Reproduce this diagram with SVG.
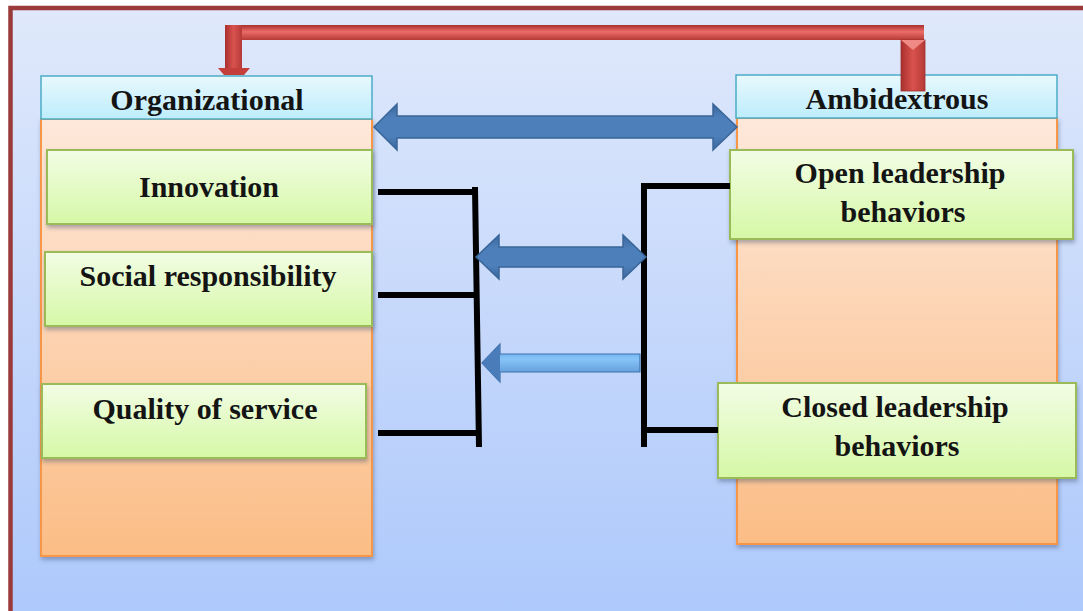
<svg xmlns="http://www.w3.org/2000/svg" width="1083" height="611" viewBox="0 0 1083 611">
  <defs>
    <linearGradient id="bg" x1="0" y1="0" x2="0" y2="1">
      <stop offset="0" stop-color="#e0e9fb"/>
      <stop offset="1" stop-color="#a5c3fb"/>
    </linearGradient>
    <linearGradient id="hdr" x1="0" y1="0" x2="0" y2="1">
      <stop offset="0" stop-color="#e8f8fd"/>
      <stop offset="1" stop-color="#bdedfc"/>
    </linearGradient>
    <linearGradient id="body" x1="0" y1="0" x2="0" y2="1">
      <stop offset="0" stop-color="#fee8da"/>
      <stop offset="1" stop-color="#fbbd86"/>
    </linearGradient>
    <linearGradient id="leaf" x1="0" y1="0" x2="0" y2="1">
      <stop offset="0" stop-color="#f2fde5"/>
      <stop offset="1" stop-color="#d6f8a6"/>
    </linearGradient>
    <linearGradient id="redH" x1="0" y1="0" x2="0" y2="1">
      <stop offset="0" stop-color="#a8302e"/>
      <stop offset="0.45" stop-color="#ec6d69"/>
      <stop offset="1" stop-color="#b53a37"/>
    </linearGradient>
    <linearGradient id="redV" x1="0" y1="0" x2="1" y2="0">
      <stop offset="0" stop-color="#a8302e"/>
      <stop offset="0.5" stop-color="#d9524e"/>
      <stop offset="1" stop-color="#b53a37"/>
    </linearGradient>
    <linearGradient id="blueA" x1="0" y1="0" x2="0" y2="1">
      <stop offset="0" stop-color="#3b679c"/>
      <stop offset="0.3" stop-color="#4d7fba"/>
      <stop offset="0.7" stop-color="#4d7fba"/>
      <stop offset="1" stop-color="#3b679c"/>
    </linearGradient>
    <linearGradient id="blueL" x1="0" y1="0" x2="0" y2="1">
      <stop offset="0" stop-color="#5a9be0"/>
      <stop offset="0.4" stop-color="#86c4f8"/>
      <stop offset="1" stop-color="#4f86c8"/>
    </linearGradient>
    <filter id="shadow" x="-5%" y="-5%" width="115%" height="120%">
      <feDropShadow dx="1" dy="3" stdDeviation="2" flood-color="#3a4a6a" flood-opacity="0.4"/>
    </filter>
  </defs>
  <style>
    .hdr { fill: url(#hdr); stroke: #4bacc6; stroke-width: 1.5; }
    .body { fill: url(#body); stroke: #f79646; stroke-width: 2; filter: url(#shadow); }
    .leaf { fill: url(#leaf); stroke: #9bbb59; stroke-width: 2; filter: url(#shadow); }
    .lbl { font-family: "Liberation Serif", "Times New Roman", serif; font-weight: bold; font-size: 30px; fill: #141414; text-anchor: middle; }
    .bar { stroke: #000; stroke-width: 6; fill: none; stroke-linecap: butt; }
    .arr { fill: url(#blueA); stroke: #3a6598; stroke-width: 1.5; stroke-linejoin: miter; }
  </style>

  <!-- page and frame -->
  <rect x="0" y="0" width="1083" height="611" fill="#ffffff"/>
  <rect x="10.5" y="8" width="1100" height="700" fill="url(#bg)" stroke="#9a3a3a" stroke-width="4.5"/>

  <!-- left column -->
  <g id="organizational">
    <rect class="body" x="41" y="119" width="331" height="437"/>
    <rect class="hdr" x="41" y="76" width="331" height="43"/>
    <text class="lbl" x="207" y="110">Organizational</text>
  </g>
  <g id="innovation">
    <rect class="leaf" x="47" y="150" width="325" height="74"/>
    <text class="lbl" x="209" y="197">Innovation</text>
  </g>
  <g id="social-responsibility">
    <rect class="leaf" x="45" y="252" width="327" height="74"/>
    <text class="lbl" x="208" y="286">Social responsibility</text>
  </g>
  <g id="quality-of-service">
    <rect class="leaf" x="42" y="384" width="324" height="74"/>
    <text class="lbl" x="205" y="419">Quality of service</text>
  </g>

  <!-- right column -->
  <g id="ambidextrous">
    <rect class="body" x="737" y="118" width="320" height="426"/>
    <rect class="hdr" x="736" y="75" width="321" height="43"/>
    <text class="lbl" x="897" y="109">Ambidextrous</text>
  </g>
  <g id="open-leadership">
    <rect class="leaf" x="730" y="150" width="343" height="89"/>
    <text class="lbl" x="900" y="183">Open leadership</text>
    <text class="lbl" x="903" y="222">behaviors</text>
  </g>
  <g id="closed-leadership">
    <rect class="leaf" x="718" y="383" width="358" height="95"/>
    <text class="lbl" x="895" y="417">Closed leadership</text>
    <text class="lbl" x="897" y="456">behaviors</text>
  </g>

  <!-- connectors -->
  <g id="connectors">
    <!-- red bent arrow from Ambidextrous back to Organizational -->
    <g id="feedback-arrow">
      <rect x="225" y="25" width="699" height="15" fill="url(#redH)"/>
      <rect x="225" y="25" width="17" height="44" fill="url(#redV)"/>
      <polygon points="218,68 250,68 244,75 224,75" fill="#c43f3b"/>
      <rect x="901" y="40" width="24" height="51" fill="url(#redV)" stroke="#9c2e2c" stroke-width="0.8"/>
      <polygon points="901,40 925,40 913,50" fill="#f08a86"/>
    </g>

    <!-- top double arrow between the two headers -->
    <polygon class="arr" points="374,127 397,104 397,116 713,116 713,104 737,127 713,150 713,138 397,138 397,150"/>

    <!-- left bracket -->
    <path class="bar" d="M378,192 H477 M378,295 H478 M378,433 H480 M475,187 L479,447"/>
    <!-- right bracket -->
    <path class="bar" d="M644,183 V447 M641,186 H730 M644,430 H718"/>

    <!-- middle double arrow -->
    <polygon class="arr" points="476,257 499,235 499,247 623,247 623,235 646,257 623,279 623,267 499,267 499,279"/>

    <!-- lower single arrow pointing left -->
    <polygon points="482,363 500,344 500,354 640,354 640,372 500,372 500,382" fill="url(#blueL)" stroke="#3f70ab" stroke-width="1.2"/>
    <polygon points="482,363 500,344 500,382" fill="#4a7cb9"/>
  </g>
</svg>
